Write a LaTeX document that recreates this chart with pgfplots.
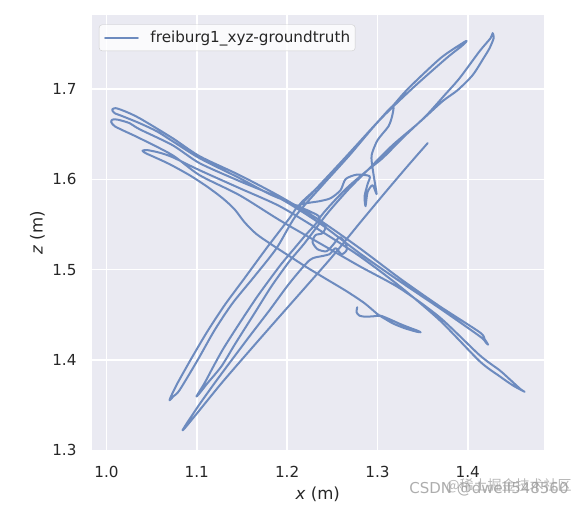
\documentclass[border=0pt]{standalone}
\usepackage{fontspec}
\setmainfont{DejaVu Sans}
\newfontfamily\cjk{Noto Sans CJK SC}
\usepackage{pgfplots}
\pgfplotsset{compat=1.18}
\usepackage{pgfplotstable}
\definecolor{bgc}{HTML}{EAEAF2}
\definecolor{linec}{HTML}{6D8BBF}
\definecolor{txtc}{HTML}{262626}
\definecolor{legb}{HTML}{CCCCCC}
\pgfplotstableread{
x z
1.2776 1.4584
1.2768 1.4529
1.2802 1.4490
1.2868 1.4479
1.2957 1.4484
1.3034 1.4490
1.3134 1.4451
1.3245 1.4401
1.3355 1.4357
1.3444 1.4324
1.3477 1.4307
1.3433 1.4313
1.3300 1.4352
1.3178 1.4401
1.3090 1.4451
1.3001 1.4507
1.2857 1.4628
1.2658 1.4761
1.2436 1.4894
1.2215 1.5027
1.2026 1.5149
1.1838 1.5271
1.1661 1.5393
1.1528 1.5525
1.1417 1.5669
1.1285 1.5791
1.1107 1.5924
1.0919 1.6046
1.0698 1.6168
1.0532 1.6245
1.0432 1.6290
1.0399 1.6317
1.0454 1.6323
1.0587 1.6295
1.0731 1.6245
1.1030 1.6101
1.1473 1.5902
1.1916 1.5703
1.2359 1.5437
1.2802 1.5149
1.3245 1.4817
1.3688 1.4440
1.4131 1.3986
1.4352 1.3820
1.4496 1.3720
1.4596 1.3665
1.4629 1.3648
1.4585 1.3676
1.4463 1.3787
1.4352 1.3886
1.4131 1.4053
1.3688 1.4473
1.3245 1.4795
1.2802 1.5038
1.2359 1.5293
1.1916 1.5548
1.1473 1.5824
1.1030 1.6046
1.0731 1.6267
1.0365 1.6456
1.0177 1.6544
1.0089 1.6589
1.0052 1.6633
1.0066 1.6661
1.0122 1.6661
1.0255 1.6622
1.0365 1.6555
1.0731 1.6378
1.1030 1.6179
1.1473 1.5980
1.1916 1.5791
1.2359 1.5514
1.2802 1.5182
1.3245 1.4872
1.3688 1.4573
1.4131 1.4263
1.4197 1.4197
1.4225 1.4169
1.4186 1.4230
1.4131 1.4307
1.3688 1.4595
1.3245 1.4905
1.2802 1.5238
1.2359 1.5548
1.1916 1.5813
1.1473 1.6046
1.1030 1.6256
1.0731 1.6456
1.0365 1.6677
1.0199 1.6755
1.0100 1.6788
1.0063 1.6771
1.0089 1.6733
1.0177 1.6699
1.0365 1.6622
1.0554 1.6533
1.0731 1.6422
1.1030 1.6234
1.1473 1.6013
1.1805 1.5836
1.2026 1.5747
1.2137 1.5714
1.2326 1.5902
1.2636 1.6234
1.2990 1.6622
1.3167 1.6810
1.3167 1.6721
1.3123 1.6589
1.3001 1.6434
1.2935 1.6267
1.2946 1.6123
1.2968 1.5980
1.2990 1.5836
1.2946 1.5935
1.2890 1.5858
1.2868 1.5703
1.2857 1.5813
1.2890 1.5946
1.2912 1.6035
1.2768 1.6051
1.2647 1.6002
1.2591 1.5880
1.2481 1.5791
1.2359 1.5758
1.2137 1.5714
1.2026 1.5570
1.1772 1.5238
1.1528 1.4905
1.1307 1.4606
1.1118 1.4318
1.0941 1.4019
1.0786 1.3743
1.0720 1.3610
1.0698 1.3554
1.0742 1.3599
1.0808 1.3665
1.1008 1.3997
1.1196 1.4329
1.1395 1.4628
1.1639 1.4927
1.1883 1.5238
1.2093 1.5592
1.2381 1.5924
1.2691 1.6267
1.3023 1.6655
1.3389 1.7009
1.3765 1.7342
1.3931 1.7474
1.3987 1.7530
1.3942 1.7508
1.3699 1.7342
1.3344 1.7009
1.3167 1.6810
1.2990 1.6622
1.2636 1.6234
1.2326 1.5902
1.2137 1.5714
1.2248 1.5647
1.2359 1.5570
1.2193 1.5370
1.2082 1.5238
1.1916 1.5038
1.1672 1.4706
1.1473 1.4407
1.1296 1.4130
1.1185 1.3931
1.1085 1.3743
1.0997 1.3599
1.1030 1.3632
1.1118 1.3743
1.1273 1.3931
1.1429 1.4186
1.1639 1.4518
1.1827 1.4817
1.2026 1.5094
1.2193 1.5293
1.2447 1.5625
1.2691 1.5902
1.2912 1.6123
1.3167 1.6378
1.3466 1.6633
1.3721 1.6865
1.3887 1.6987
1.4053 1.7153
1.4175 1.7342
1.4241 1.7452
1.4286 1.7563
1.4275 1.7618
1.4252 1.7563
1.4131 1.7419
1.3909 1.7120
1.3743 1.6932
1.3544 1.6710
1.3300 1.6478
1.3056 1.6234
1.2890 1.6101
1.2636 1.5880
1.2359 1.5570
1.2425 1.5481
1.2392 1.5404
1.2314 1.5382
1.2281 1.5304
1.2337 1.5226
1.2436 1.5204
1.2514 1.5282
1.2580 1.5359
1.2647 1.5293
1.2658 1.5215
1.2602 1.5171
1.2536 1.5238
1.2469 1.5171
1.2381 1.5149
1.2248 1.5105
1.2026 1.4850
1.1805 1.4551
1.1584 1.4263
1.1384 1.3997
1.1196 1.3743
1.1030 1.3510
1.0897 1.3311
1.0842 1.3222
1.0875 1.3255
1.1030 1.3444
1.1273 1.3743
1.1550 1.4064
1.1860 1.4418
1.2193 1.4795
1.2503 1.5149
1.2802 1.5514
1.3079 1.5847
1.3333 1.6146
1.3555 1.6400
}\traj
\begin{document}
\begin{tikzpicture}
\path[use as bounding box] (0,0) rectangle (578bp,505bp);
\begin{axis}[
  at={(91.7bp,54.5bp)}, anchor=south west,
  scale only axis, width=452.3bp, height=435.5bp,
  xmin=0.98362, xmax=1.48434, ymin=1.2998, ymax=1.7819,
  axis background/.style={fill=bgc},
  axis line style={draw=none},
  tick style={draw=none},
  major tick length=0pt,
  grid=major,
  major grid style={white, line width=1.4bp},
  xtick={1.0,1.1,1.2,1.3,1.4},
  ytick={1.3,1.4,1.5,1.6,1.7},
  /pgf/number format/assume math mode=true,
  xticklabel style={/pgf/number format/fixed, /pgf/number format/fixed zerofill, /pgf/number format/precision=1, inner sep=0pt, anchor=north, yshift=-16bp, font=\fontsize{15.2bp}{18bp}\selectfont, text=txtc},
  yticklabel style={/pgf/number format/fixed, /pgf/number format/fixed zerofill, /pgf/number format/precision=1, inner sep=0pt, anchor=east, xshift=-15bp, font=\fontsize{15.2bp}{18bp}\selectfont, text=txtc},
  xlabel={\itshape x\upshape{} (m)},
  ylabel={\itshape z\upshape{} (m)},
  xlabel style={at={(axis description cs:0.5,0)}, anchor=north, inner sep=0pt, yshift=-36bp, font=\fontsize{16.6bp}{20bp}\selectfont, text=txtc},
  ylabel style={at={(axis description cs:-0.1033,0.5)}, anchor=south, inner sep=0pt, font=\fontsize{16.6bp}{20bp}\selectfont, text=txtc},
  legend cell align=left,
  legend image code/.code={\draw[#1] (0bp,0bp) -- (32.7bp,0bp); \path (44.3bp,0bp);},
  legend style={at={(axis description cs:0.0161,0.978)}, anchor=north west,
    draw=legb, fill=white, fill opacity=0.8, text opacity=1, rounded corners=3bp,
    inner xsep=5bp, inner ysep=6.5bp, font=\fontsize{15.2bp}{18bp}\selectfont, text=txtc,
    nodes={inner sep=0pt}},
]
\addplot[color=linec, line width=2bp, line join=round, line cap=round, smooth, tension=0.45] table[x=x, y=z] {\traj};
\addlegendentry{freiburg1\_xyz-groundtruth\hspace{4bp}}
\end{axis}
\node[anchor=center, text=black!35, font=\fontsize{14bp}{16bp}\selectfont\cjk, opacity=0.8] at (509bp,505bp-486bp) {@稀土掘金技术社区};
\node[anchor=center, text=black!40, font=\fontsize{15bp}{18bp}\selectfont, opacity=0.8] at (489bp,505bp-489bp) {CSDN @dwell548560};
\end{tikzpicture}
\end{document}
